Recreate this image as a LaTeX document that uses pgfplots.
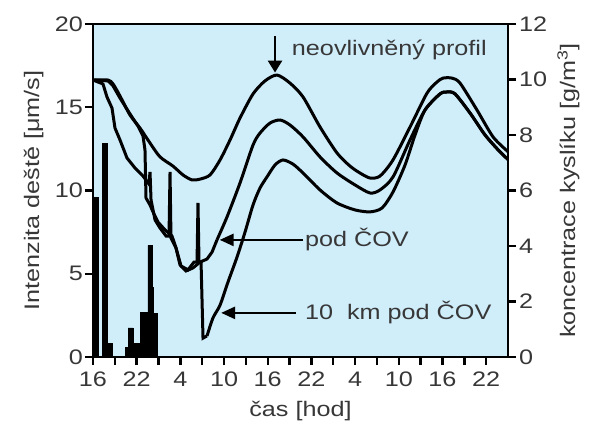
\documentclass[border=0pt]{standalone}
\usepackage{fontspec}
\setmainfont{Liberation Sans}[FakeStretch=1.2]
\usepackage{pgfplots}
\pgfplotsset{compat=1.18}
\usetikzlibrary{arrows.meta,calc}
\definecolor{bg}{RGB}{208,237,250}
\definecolor{txt}{RGB}{55,55,55}
\begin{document}
\fontsize{21}{25}\selectfont
\begin{tikzpicture}
\begin{axis}[
  name=ax1,
  scale only axis, width=415pt, height=333pt,
  xmin=0, xmax=57, ymin=0, ymax=20,
  axis background/.style={fill=bg},
  axis line style={line width=2.6pt, black},
  xtick={0,6,...,54}, xticklabels={16,22,4,10,16,22,4,10,16,22},
  minor xtick={3,9,...,51},
  ytick={0,5,...,20},
  xtick pos=left, ytick pos=left,
  tick align=outside,
  major tick length=8pt, minor tick length=8pt,
  every tick/.style={black, line width=2.4pt},
  every minor tick/.style={black, line width=2.4pt},
  tick label style={font=\fontsize{21}{25}\selectfont, text=txt},
  yticklabel style={inner sep=2pt},
  /pgf/number format/assume math mode=true,
  xlabel={čas [hod]}, ylabel={Intenzita deště [μm/s]},
  label style={text=txt, font=\fontsize{21}{25}\selectfont},
  ylabel style={yshift=2pt},
]
\addplot[const plot, fill=black, draw=black, line width=0.5pt] coordinates {
(0,9.6) (0.69,0) (1.24,12.85) (1.92,0.82) (2.61,0) (4.40,0.6) (4.81,1.75)
(5.49,0.8) (6.46,2.7) (7.55,6.7) (8.10,4.2) (8.30,2.6) (8.79,0) (9.0,0)
} \closedcycle;
\end{axis}
\begin{axis}[
  scale only axis, width=415pt, height=333pt,
  xmin=0, xmax=57, ymin=0, ymax=12,
  axis x line=none, axis y line*=right,
  axis line style={line width=2.6pt, black},
  ytick={0,2,...,12},
  tick align=outside,
  major tick length=8pt,
  every tick/.style={black, line width=2.4pt},
  tick label style={font=\fontsize{21}{25}\selectfont, text=txt},
  yticklabel style={inner sep=3pt},
  /pgf/number format/assume math mode=true,
  ylabel={koncentrace kyslíku [g/m\textsuperscript{3}]},
  label style={text=txt, font=\fontsize{21}{25}\selectfont},
]
% neovlivneny profil
\addplot[smooth, tension=0.45, black, line width=3pt] coordinates {
(0,9.98) (2.06,9.98) (2.75,9.84) (3.70,9.41) (5.08,8.72) (6.46,8.25) (7.83,7.71)
(9.21,7.21) (10.98,6.88) (12.36,6.56) (13.60,6.38) (14.70,6.41) (16.07,6.56)
(17.45,7.10) (18.82,7.82) (20.19,8.61) (21.98,9.48) (23.63,9.95) (25.27,10.16)
(27.06,9.87) (28.85,9.37) (31.18,8.29) (33.52,7.35) (35.30,6.88) (36.67,6.63)
(38.05,6.45) (39.42,6.52) (41.20,7.10) (43.55,8.29) (45.88,9.51) (47.25,9.91)
(48.08,10.05) (49.31,10.05) (50.41,9.87) (52.74,8.90) (54.95,7.93) (57.0,7.40)
};
% pod COV
\addplot[sharp plot, black, line width=3pt] coordinates {
(0,9.98) (2.06,9.95) (2.75,9.77) (3.71,9.33) (5.08,8.76) (6.18,8.32) (6.87,7.96)
(7.14,7.46) (7.28,5.73) (7.83,5.48) (8.24,5.23) (8.93,4.86) (9.89,4.58)
(10.85,4.36) (11.40,3.93) (11.95,3.32) (12.77,3.10) (13.74,3.21) (14.70,3.42)
(15.66,3.53) (16.35,3.78) (17.03,4.22)
};
\addplot[smooth, tension=0.45, black, line width=3pt] coordinates {
(17.03,4.22) (18.41,5.05) (20.19,6.27) (21.98,7.64) (22.94,8.07) (24.31,8.43)
(25.69,8.54) (27.06,8.36) (28.85,7.93) (31.18,7.21) (33.52,6.63) (35.99,6.20)
(38.05,5.91) (39.42,6.02) (41.21,6.49) (43.54,7.82) (45.60,8.90) (47.66,9.48)
(48.63,9.55) (49.73,9.48) (51.79,8.79) (53.85,8.00) (55.91,7.39) (57.0,7.12)
};
% 10 km pod COV
\addplot[sharp plot, black, line width=3pt] coordinates {
(0,9.98) (1.37,9.84) (1.92,9.37) (2.61,8.97) (3.02,8.25) (3.71,7.82) (4.67,7.17)
(5.77,6.81) (6.87,6.52) (7.69,6.23) (7.83,6.67) (7.97,5.66) (8.52,4.94)
(9.20,4.65) (10.03,4.36) (10.44,4.36) (10.58,6.67) (10.71,4.29) (11.40,3.93)
(12.09,3.28) (13.05,3.14) (13.87,3.42) (14.29,3.42) (14.42,5.55) (14.56,3.42)
(14.84,3.42) (15.11,0.68) (15.66,0.76)
};
\addplot[smooth, tension=0.45, black, line width=3pt] coordinates {
(15.66,0.76) (16.48,1.41) (17.45,1.87) (18.54,2.70) (19.78,3.60) (20.88,4.50)
(21.98,5.48) (22.94,6.09) (23.90,6.49) (25.00,6.92) (26.10,7.10) (27.47,6.95)
(28.85,6.63) (31.18,6.02) (33.52,5.55) (35.99,5.30) (38.05,5.23) (39.70,5.37)
(41.21,5.95) (42.86,6.92) (44.23,8.00) (45.60,8.90) (47.66,9.48) (48.63,9.55)
(49.73,9.48) (51.79,8.79) (53.85,8.00) (55.91,7.39) (57.0,7.12)
};
\draw[line width=2.6pt, -{Triangle[length=12pt,width=14pt]}] (axis cs:25.0,11.55) -- (axis cs:25.0,10.25);
\node[anchor=west, text=txt, inner sep=0pt] at (axis cs:27.3,11.06) {neovlivněný profil};
\draw[line width=2.6pt, -{Triangle[length=14pt,width=12pt]}] (axis cs:28.85,4.22) -- (axis cs:17.4,4.22);
\node[anchor=west, text=txt, inner sep=0pt] at (axis cs:29.1,4.22) {pod ČOV};
\draw[line width=2.6pt, -{Triangle[length=14pt,width=12pt]}] (axis cs:27.9,1.59) -- (axis cs:17.6,1.59);
\node[anchor=west, text=txt, inner sep=0pt] at (axis cs:29.1,1.59) {10\ \ km pod ČOV};
\end{axis}
\pgfresetboundingbox
\path[use as bounding box] ($(ax1.south west)+(-93pt,-73pt)$) rectangle ($(ax1.north east)+(81pt,24pt)$);
\end{tikzpicture}
\end{document}
